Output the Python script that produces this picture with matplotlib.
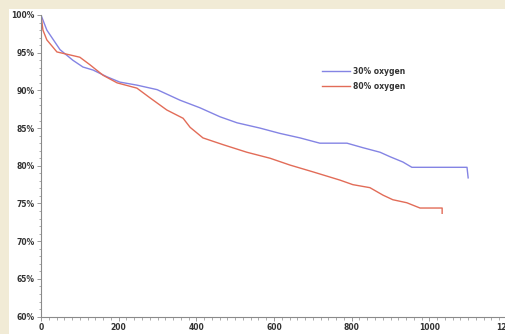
import matplotlib
matplotlib.use("Agg")
from matplotlib import pyplot as plt
from matplotlib.patches import Rectangle
from matplotlib.ticker import MultipleLocator, FuncFormatter

# survival curves (days, % event free)
t_30 = [0, 15, 49, 82, 108, 134, 170, 203, 247, 299, 358, 409, 461, 505,
        564, 615, 667, 718, 788, 829, 873, 899, 932, 955, 1097, 1100]
s_30 = [100, 98.0, 95.4, 94.0, 93.1, 92.7, 91.8, 91.1, 90.7, 90.1, 88.7,
        87.7, 86.5, 85.7, 85.0, 84.3, 83.7, 83.0, 83.0, 82.4, 81.8, 81.2,
        80.5, 79.8, 79.8, 78.4]

t_80 = [0, 5, 15, 41, 75, 100, 126, 160, 196, 247, 281, 324, 366, 384, 417,
        469, 530, 590, 641, 700, 770, 803, 847, 881, 906, 942, 976, 1033, 1033]
s_80 = [100, 98.0, 96.7, 95.1, 94.7, 94.4, 93.4, 92.0, 91.0, 90.3, 89.0,
        87.4, 86.3, 85.1, 83.7, 82.8, 81.8, 81.0, 80.1, 79.2, 78.1, 77.5,
        77.1, 76.1, 75.5, 75.1, 74.4, 74.4, 73.7]

labels = ["30% oxygen", "80% oxygen"]
colors = ["#8484e4", "#e26c58"]

W, H = 506, 334
fig = plt.figure(figsize=(W / 100, H / 100), dpi=100, facecolor="#f1ebd6")
# white panel behind the plot
fig.patches.append(Rectangle((9 / W, 0), 1, (H - 9) / H, transform=fig.transFigure,
                             facecolor="white", edgecolor="none", zorder=-10))

ax = fig.add_axes([41 / W, 17.4 / H, 466 / W, 301.6 / H])
ax.set_zorder(5)
ax.set_facecolor("none")
ax.plot(t_30, s_30, color=colors[0], lw=1.0, label=labels[0])
ax.plot(t_80, s_80, color=colors[1], lw=1.0, label=labels[1])

ax.set_xlim(0, 1200)
ax.set_ylim(60, 100)
for s in ["top", "right"]:
    ax.spines[s].set_visible(False)
for s in ["left", "bottom"]:
    ax.spines[s].set_color("#8a8a8a")
    ax.spines[s].set_linewidth(0.8)

ax.xaxis.set_major_locator(MultipleLocator(200))
ax.xaxis.set_minor_locator(MultipleLocator(20))
ax.yaxis.set_major_locator(MultipleLocator(5))
ax.yaxis.set_minor_locator(MultipleLocator(1))
ax.yaxis.set_major_formatter(FuncFormatter(lambda v, p: f"{v:.0f}%"))
ax.tick_params(which="major", length=3, width=0.6, color="#8a8a8a",
               labelsize=5.5, pad=1.5, labelcolor="#333333")
ax.tick_params(which="minor", length=1.8, width=0.5, color="#8a8a8a")
for lab in ax.get_xticklabels() + ax.get_yticklabels():
    lab.set_fontweight("bold")

leg = ax.legend(loc="upper left", bbox_to_anchor=(322 / W, (H - 67) / H),
                bbox_transform=fig.transFigure, frameon=False, borderpad=0,
                borderaxespad=0, handlelength=3.7, handletextpad=0.3,
                labelspacing=0.75, prop={"size": 5.5, "weight": "bold"})
for t in leg.get_texts():
    t.set_color("#333333")

fig.savefig("out.png", dpi=100, facecolor=fig.get_facecolor())
